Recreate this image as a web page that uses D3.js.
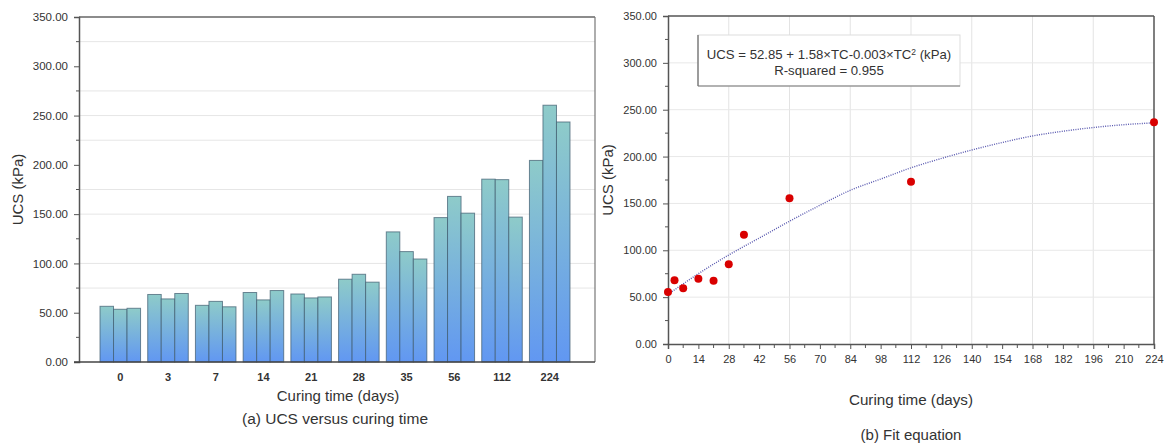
<!DOCTYPE html>
<html>
<head>
<meta charset="utf-8">
<script src="https://cdnjs.cloudflare.com/ajax/libs/d3/7.8.5/d3.min.js"></script>
<style>
  body { margin: 0; background: #fff; }
  text { font-family: "Liberation Sans", Arial, sans-serif; fill: #333; }
</style>
</head>
<body>
<div id="chart"></div>
<script>
// curing times (days) for the bar groups
var groups = ["0", "3", "7", "14", "21", "28", "35", "56", "112", "224"];
// three specimens per curing time
var rep1 = [56.5, 68.5, 57.5, 70.5, 69, 84, 132, 146.5, 185.5, 204.5];
var rep2 = [53.5, 64, 61.5, 63, 65, 89, 112, 168, 185, 260.5];
var rep3 = [54.5, 69.5, 56, 72.5, 66, 81, 104.5, 151, 147, 243.5];

// mean points for the fit plot
var fitDays = [0, 3, 7, 14, 21, 28, 35, 56, 112, 224];
var fitUcs = [55.5, 68, 59.5, 69.5, 67.5, 85, 116.5, 155.5, 173, 236.5];

// dotted trend line
var trendDays = [0, 14, 28, 42, 56, 70, 84, 98, 112, 126, 140, 154, 168, 182, 196, 210, 224];
var trendUcs = [53, 75, 95, 113, 131, 148, 164, 176, 188, 198, 207, 215, 222, 227, 231, 234, 236];

var yTicks = [0, 50, 100, 150, 200, 250, 300, 350];
var leftGrid = [75, 100, 150, 175, 225, 250, 275, 325];
var xTicksB = d3.range(0, 225, 14);

const W = 1169, H = 443;

const svg = d3.select("#chart").append("svg")
    .attr("width", W)
    .attr("height", H);

const defs = svg.append("defs");
const grad = defs.append("linearGradient")
    .attr("id", "barGrad")
    .attr("x1", 0).attr("y1", 0).attr("x2", 0).attr("y2", 1);
grad.append("stop").attr("offset", "0%").attr("stop-color", "#8ecbc9");
grad.append("stop").attr("offset", "100%").attr("stop-color", "#6197f2");

// ---------- (a) bar chart ----------
var a = {left: 79, right: 595, top: 17, bottom: 362};

var yA = d3.scaleLinear().domain([0, 350]).range([a.bottom, a.top]);
var xA = d3.scaleBand().domain(groups).range([100, 570]).paddingInner(0.15);
var xSub = d3.scaleBand().domain([0, 1, 2]).range([0, xA.bandwidth()]);

const gA = svg.append("g");

gA.selectAll(".gridA")
    .data(leftGrid)
    .join("line")
    .attr("x1", a.left).attr("x2", a.right)
    .attr("y1", d => yA(d)).attr("y2", d => yA(d))
    .attr("stroke", "#e6e6e6").attr("stroke-width", 1);

// frame
gA.append("line").attr("x1", a.left).attr("x2", a.right)
    .attr("y1", a.top).attr("y2", a.top)
    .attr("stroke", "#666").attr("stroke-width", 1.5);
gA.append("line").attr("x1", a.right).attr("x2", a.right)
    .attr("y1", a.top).attr("y2", a.bottom)
    .attr("stroke", "#777").attr("stroke-width", 1.2);

var reps = [rep1, rep2, rep3];
var barData = [];
groups.forEach(function(g, i) {
  reps.forEach(function(r, j) {
    barData.push({g: g, k: j, v: r[i]});
  });
});

gA.selectAll(".bar")
    .data(barData)
    .join("rect")
    .attr("x", d => xA(d.g) + xSub(d.k))
    .attr("y", d => yA(d.v))
    .attr("width", xSub.bandwidth())
    .attr("height", d => yA(0) - yA(d.v))
    .attr("fill", "url(#barGrad)")
    .attr("stroke", "#3d5a6e")
    .attr("stroke-opacity", 0.7)
    .attr("stroke-width", 1);

var yAxisA = d3.axisLeft(yA).tickValues(yTicks).tickFormat(d3.format(".2f")).tickSize(5).tickPadding(6);
var yAxA = gA.append("g")
    .attr("transform", "translate(" + a.left + ",0)")
    .call(yAxisA);
yAxA.select(".domain").attr("stroke", "#555").attr("stroke-width", 1.5);
yAxA.selectAll(".tick line").attr("stroke", "#555");
yAxA.selectAll("text").style("font-size", "11.5px").attr("fill", "#333");

// minor ticks
gA.selectAll(".minorA")
    .data(d3.range(25, 350, 50))
    .join("line")
    .attr("x1", a.left - 3).attr("x2", a.left)
    .attr("y1", d => yA(d)).attr("y2", d => yA(d))
    .attr("stroke", "#555");

var xAxisA = d3.axisBottom(xA).tickSize(0).tickPadding(11);
var xAxA = gA.append("g")
    .attr("transform", "translate(0," + a.bottom + ")")
    .call(xAxisA);
xAxA.select(".domain").remove();
xAxA.selectAll("text").style("font-size", "11px").style("font-weight", "bold").attr("fill", "#222");
gA.append("line").attr("x1", a.left - 5).attr("x2", a.right)
    .attr("y1", a.bottom).attr("y2", a.bottom)
    .attr("stroke", "#444").attr("stroke-width", 1.5);

gA.append("text")
    .attr("x", 338).attr("y", 401)
    .attr("text-anchor", "middle")
    .style("font-size", "15px")
    .text("Curing time (days)");

gA.append("text")
    .attr("x", 335).attr("y", 424)
    .attr("text-anchor", "middle")
    .style("font-size", "15.5px")
    .text("(a) UCS versus curing time");

gA.append("text")
    .attr("transform", "translate(23," + ((a.top + a.bottom) / 2) + ") rotate(-90)")
    .attr("text-anchor", "middle")
    .style("font-size", "15px")
    .text("UCS (kPa)");

// ---------- (b) fit plot ----------
var b = {left: 668, right: 1154, top: 16, bottom: 344};

var xB = d3.scaleLinear().domain([0, 224]).range([b.left, b.right]);
var yB = d3.scaleLinear().domain([0, 350]).range([b.bottom, b.top]);

const gB = svg.append("g");

gB.selectAll(".vgrid")
    .data(d3.range(28, 224, 28))
    .join("line")
    .attr("x1", d => xB(d)).attr("x2", d => xB(d))
    .attr("y1", b.top).attr("y2", b.bottom)
    .attr("stroke", "#e3e3e3");
gB.selectAll(".hgrid")
    .data(d3.range(50, 350, 50))
    .join("line")
    .attr("x1", b.left).attr("x2", b.right)
    .attr("y1", d => yB(d)).attr("y2", d => yB(d))
    .attr("stroke", "#e8e8e8");

gB.append("line").attr("x1", b.left).attr("x2", b.right)
    .attr("y1", b.top).attr("y2", b.top)
    .attr("stroke", "#555").attr("stroke-width", 1.5);
gB.append("line").attr("x1", b.right).attr("x2", b.right)
    .attr("y1", b.top).attr("y2", b.bottom)
    .attr("stroke", "#555").attr("stroke-width", 1.5);

var yAxisB = d3.axisLeft(yB).tickValues(yTicks).tickFormat(d3.format(".2f")).tickSize(5).tickPadding(6);
var yAxB = gB.append("g")
    .attr("transform", "translate(" + b.left + ",0)")
    .call(yAxisB);
yAxB.select(".domain").attr("stroke", "#555").attr("stroke-width", 1.5);
yAxB.selectAll(".tick line").attr("stroke", "#555");
yAxB.selectAll("text").style("font-size", "11px").attr("fill", "#333");

gB.selectAll(".minorB")
    .data(d3.range(25, 350, 50))
    .join("line")
    .attr("x1", b.left - 3).attr("x2", b.left)
    .attr("y1", d => yB(d)).attr("y2", d => yB(d))
    .attr("stroke", "#555");

var xAxisB = d3.axisBottom(xB).tickValues(xTicksB).tickSize(5).tickPadding(6);
var xAxB = gB.append("g")
    .attr("transform", "translate(0," + b.bottom + ")")
    .call(xAxisB);
xAxB.select(".domain").attr("stroke", "#555").attr("stroke-width", 1.5);
xAxB.selectAll(".tick line").attr("stroke", "#555");
xAxB.selectAll("text").style("font-size", "11px").attr("fill", "#333");

gB.selectAll(".minorXB")
    .data(d3.range(7, 224, 14))
    .join("line")
    .attr("x1", d => xB(d)).attr("x2", d => xB(d))
    .attr("y1", b.bottom).attr("y2", b.bottom + 4)
    .attr("stroke", "#555");

// trend line
var trend = d3.line()
    .x((d, i) => xB(trendDays[i]))
    .y((d, i) => yB(trendUcs[i]))
    .curve(d3.curveMonotoneX);
gB.append("path")
    .attr("d", trend(trendDays))
    .attr("fill", "none")
    .attr("stroke", "#5a5ab0")
    .attr("stroke-width", 1.4)
    .attr("stroke-dasharray", "1,1.3");

gB.selectAll(".pt")
    .data(fitDays)
    .join("circle")
    .attr("cx", d => xB(d))
    .attr("cy", (d, i) => yB(fitUcs[i]))
    .attr("r", 4)
    .attr("fill", "#d90000");

// equation box
gB.append("rect")
    .attr("x", 698).attr("y", 35).attr("width", 262).attr("height", 51)
    .attr("fill", "#fff").attr("stroke", "#ddd");
gB.append("line").attr("x1", 698).attr("x2", 698).attr("y1", 35).attr("y2", 86)
    .attr("stroke", "#666").attr("stroke-width", 1.2);
gB.append("line").attr("x1", 698).attr("x2", 960).attr("y1", 86).attr("y2", 86)
    .attr("stroke", "#777").attr("stroke-width", 1.2);

var eq = gB.append("text")
    .attr("x", 829).attr("y", 59)
    .attr("text-anchor", "middle")
    .style("font-size", "13.2px");
eq.append("tspan").text("UCS = 52.85 + 1.58×TC-0.003×TC");
eq.append("tspan").attr("dy", -4).style("font-size", "8.5px").text("2");
eq.append("tspan").attr("dy", 4).text(" (kPa)");

gB.append("text")
    .attr("x", 829).attr("y", 75)
    .attr("text-anchor", "middle")
    .style("font-size", "13.2px")
    .text("R-squared = 0.955");

gB.append("text")
    .attr("x", 911).attr("y", 405)
    .attr("text-anchor", "middle")
    .style("font-size", "15.2px")
    .text("Curing time (days)");

gB.append("text")
    .attr("x", 911).attr("y", 440)
    .attr("text-anchor", "middle")
    .style("font-size", "15px")
    .text("(b) Fit equation");

gB.append("text")
    .attr("transform", "translate(613," + ((b.top + b.bottom) / 2) + ") rotate(-90)")
    .attr("text-anchor", "middle")
    .style("font-size", "15px")
    .text("UCS (kPa)");
</script>
</body>
</html>
